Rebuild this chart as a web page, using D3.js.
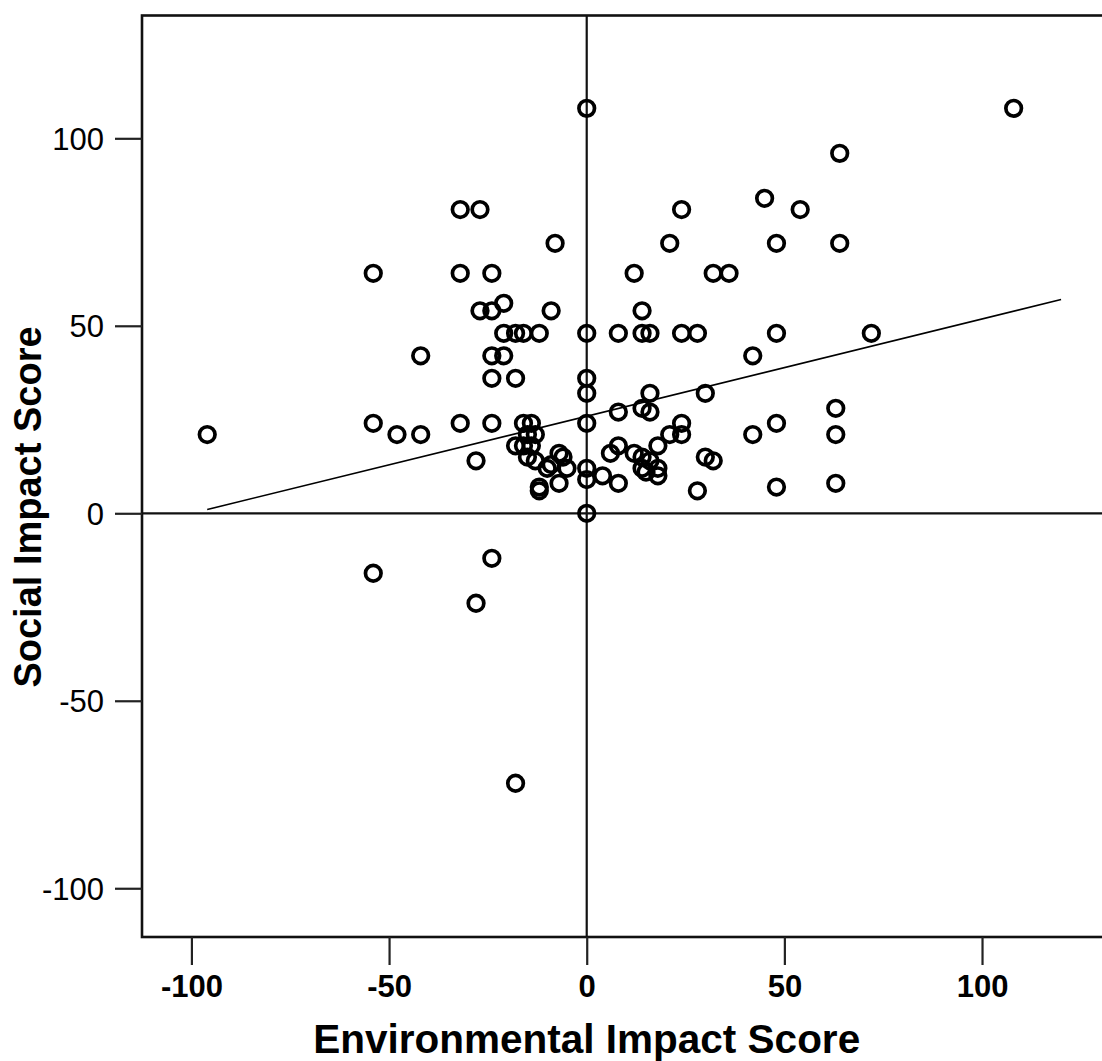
<!DOCTYPE html>
<html>
<head>
<meta charset="utf-8">
<script src="https://cdn.jsdelivr.net/npm/d3@7"></script>
<style>
  body { margin: 0; background: #fff; }
  svg { display: block; }
</style>
</head>
<body>
<svg id="chart" width="1102" height="1061"></svg>
<script>
// environmental score (x) and social score (y) of each case
const envScore = [
  0, -32, -27, -8, -54, -32, -24, -21, -27, -24, -9,
  108, 64, 45, 24, 54, 21, 48, 64, 12, 32, 36, 14,
  -21, -18, -16, -12, 0, 8, 14, 16, 24, 28, 48, 72,
  -24, -21, -42, -24, -18, 0, 0, 16, 30, 42,
  -54, -32, -24, -16, -14, 0, -96, -48, -42, -15, -13,
  8, 14, 16, 63, 48, 42, 63, 24, 24, 21, 18, 8, 6, 12,
  14, 16, 14, 18, 15, 18, 30, 32, 0, 0, 4, 8, 28, 48, 63, 0,
  -28, -18, -16, -14, -15, -13, -12, -12, -10, -9, -7, -7, -6, -5,
  -54, -24, -28, -18
];
const socScore = [
  108, 81, 81, 72, 64, 64, 64, 56, 54, 54, 54,
  108, 96, 84, 81, 81, 72, 72, 72, 64, 64, 64, 54,
  48, 48, 48, 48, 48, 48, 48, 48, 48, 48, 48, 48,
  42, 42, 42, 36, 36, 36, 32, 32, 32, 42,
  24, 24, 24, 24, 24, 24, 21, 21, 21, 21, 21,
  27, 28, 27, 28, 24, 21, 21, 24, 21, 21, 18, 18, 16, 16,
  15, 14, 12, 12, 11, 10, 15, 14, 12, 9, 10, 8, 6, 7, 8, 0,
  14, 18, 18, 18, 15, 14, 7, 6, 12, 13, 16, 8, 15, 12,
  -16, -12, -24, -72
];
const points = envScore.map((x, i) => ({x: x, y: socScore[i]}));

// fit line end points
const fitX = [-96, 120];
const fitY = [1, 57];

const xTicks = [-100, -50, 0, 50, 100];
const yTicks = [-100, -50, 0, 50, 100];

const svg = d3.select('#chart');
const plotLeft = 142, plotTop = 15.5, plotBottom = 937, plotRight = 1110.5;

const x = d3.scaleLinear().domain([-112.5, 132.5]).range([plotLeft, plotRight]);
const y = d3.scaleLinear().domain([-113, 132.75]).range([plotBottom, plotTop]);

// reference lines at zero
svg.append('line').attr('x1', x(0)).attr('x2', x(0)).attr('y1', plotTop).attr('y2', plotBottom)
  .attr('stroke', '#111').attr('stroke-width', 2.2);
svg.append('line').attr('x1', plotLeft).attr('x2', plotRight).attr('y1', y(0)).attr('y2', y(0))
  .attr('stroke', '#111').attr('stroke-width', 2.2);

// frame
svg.append('rect').attr('x', plotLeft).attr('y', plotTop)
  .attr('width', plotRight - plotLeft).attr('height', plotBottom - plotTop)
  .attr('fill', 'none').attr('stroke', '#111').attr('stroke-width', 2.6);

// x axis
const xAxis = svg.append('g').attr('transform', 'translate(0,' + plotBottom + ')')
  .call(d3.axisBottom(x).tickValues(xTicks).tickSize(28).tickPadding(8).tickFormat(d => String(d)));
xAxis.select('.domain').remove();
xAxis.selectAll('line').attr('stroke', '#222').attr('stroke-width', 2.2);
xAxis.selectAll('text').attr('font-family', 'Liberation Sans, Arial, sans-serif')
  .attr('font-size', 31).attr('font-weight', 'bold').attr('fill', '#000').attr('dy', '0.78em');

// y axis
const yAxis = svg.append('g').attr('transform', 'translate(' + plotLeft + ',0)')
  .call(d3.axisLeft(y).tickValues(yTicks).tickSize(27).tickPadding(11).tickFormat(d => String(d)));
yAxis.select('.domain').remove();
yAxis.selectAll('line').attr('stroke', '#222').attr('stroke-width', 2.2);
yAxis.selectAll('text').attr('font-family', 'Liberation Sans, Arial, sans-serif')
  .attr('font-size', 31).attr('fill', '#000').attr('dy', '0.36em');

// fit line
svg.append('line')
  .attr('x1', x(fitX[0])).attr('y1', y(fitY[0]))
  .attr('x2', x(fitX[1])).attr('y2', y(fitY[1]))
  .attr('stroke', '#000').attr('stroke-width', 1.6);

// points
svg.append('g').selectAll('circle').data(points).join('circle')
  .attr('cx', d => x(d.x)).attr('cy', d => y(d.y)).attr('r', 7.8)
  .attr('fill', 'none').attr('stroke', '#000').attr('stroke-width', 3.7);

// titles
svg.append('text').text('Environmental Impact Score')
  .attr('x', x(0)).attr('y', 1053).attr('text-anchor', 'middle')
  .attr('font-family', 'Liberation Sans, Arial, sans-serif').attr('font-size', 40.5).attr('font-weight', 'bold');
svg.append('text').text('Social Impact Score')
  .attr('transform', 'translate(41,507) rotate(-90)').attr('text-anchor', 'middle')
  .attr('font-family', 'Liberation Sans, Arial, sans-serif').attr('font-size', 38).attr('font-weight', 'bold');
</script>
</body>
</html>
